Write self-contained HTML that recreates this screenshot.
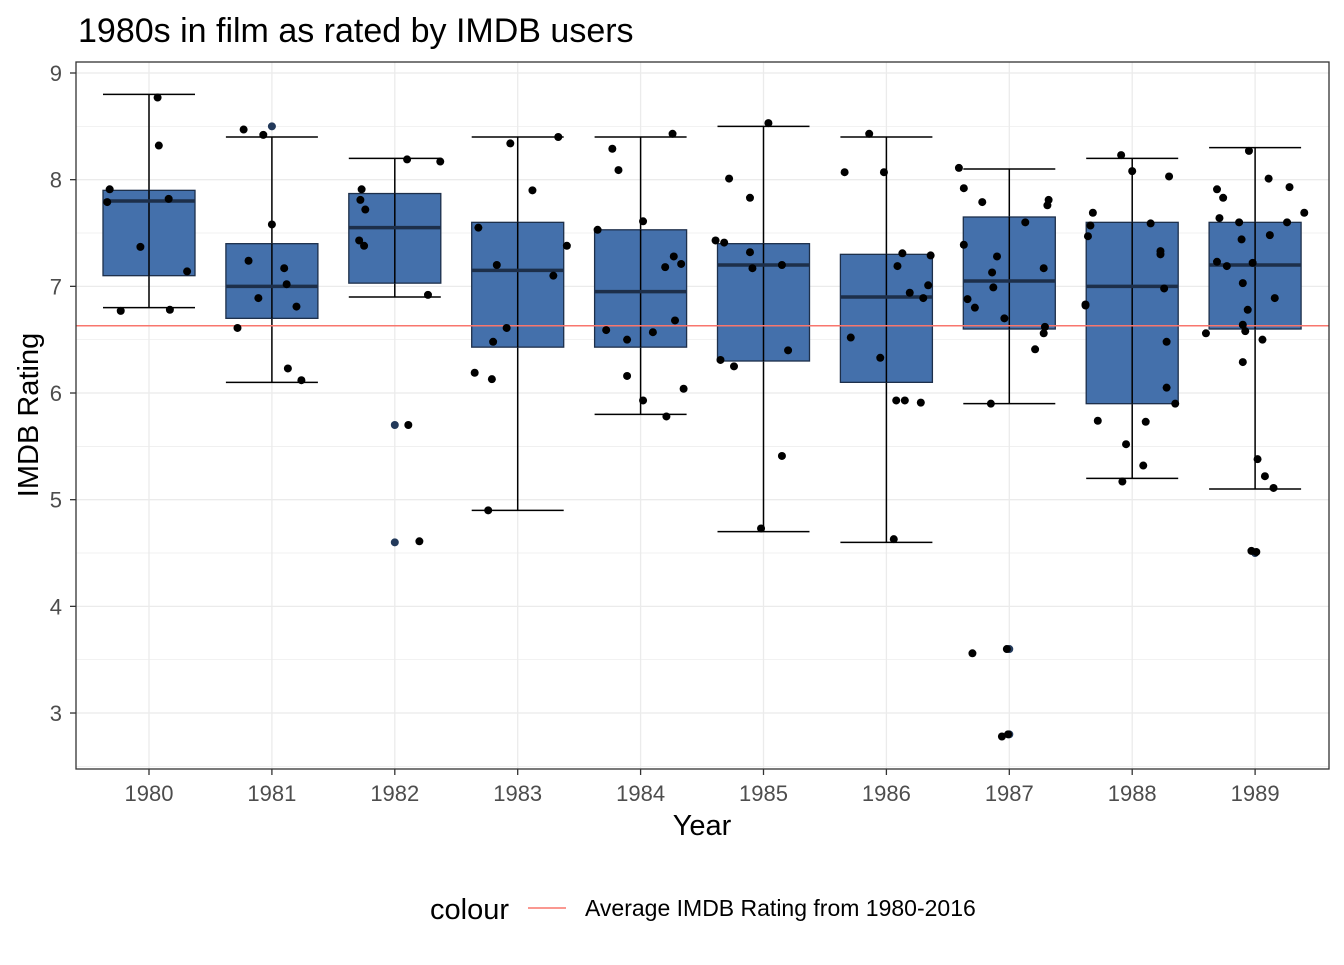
<!DOCTYPE html>
<html><head><meta charset="utf-8"><style>
html,body{margin:0;padding:0;background:#fff;}
svg text{font-family:"Liberation Sans",Arial,sans-serif;}
</style></head><body>
<svg id="chart" width="1344" height="960" xmlns="http://www.w3.org/2000/svg">
<rect width="1344" height="960" fill="#fff"/>
<text x="78" y="42" font-size="34" fill="#000">1980s in film as rated by IMDB users</text>
<g id="grid"></g>
<g id="marks"></g>
<rect x="76" y="62" width="1253" height="707" fill="none" stroke="#333" stroke-width="1.3"/>
<g id="axes"></g>
<text x="702" y="835" font-size="29" text-anchor="middle" fill="#000">Year</text>
<text transform="translate(38,415) rotate(-90)" font-size="29" text-anchor="middle" fill="#000">IMDB Rating</text>
<g>
<text x="430" y="919" font-size="29" fill="#000">colour</text>
<line x1="528" y1="908" x2="566" y2="908" stroke="#F8766D" stroke-width="1.5"/>
<text x="585" y="916" font-size="23" fill="#000">Average IMDB Rating from 1980-2016</text>
</g>
</svg>
<script>
const years=[1980,1981,1982,1983,1984,1985,1986,1987,1988,1989];
const whiskLo=[6.8,6.1,6.9,4.9,5.8,4.7,4.6,5.9,5.2,5.1];
const q1=[7.1,6.7,7.03,6.43,6.43,6.3,6.1,6.6,5.9,6.6];
const med=[7.8,7.0,7.55,7.15,6.95,7.2,6.9,7.05,7.0,7.2];
const q3=[7.9,7.4,7.87,7.6,7.53,7.4,7.3,7.65,7.6,7.6];
const whiskHi=[8.8,8.4,8.2,8.4,8.4,8.5,8.4,8.1,8.2,8.3];
const outliers=[[],[8.5],[5.7,4.6],[],[],[],[],[3.6,2.8],[],[4.5]];
const avgRating=6.63;
const yTicks=[3,4,5,6,7,8,9];
const jitter=[
[[-.32,7.91],[-.34,7.79],[-.23,6.77],[-.07,7.37],[.07,8.77],[.08,8.32],[.16,7.82],[.17,6.78],[.31,7.14]],
[[-.23,8.47],[-.07,8.42],[-.28,6.61],[-.19,7.24],[-.11,6.89],[0,7.58],[.10,7.17],[.12,7.02],[.20,6.81],[.13,6.23],[.24,6.12]],
[[-.27,7.91],[-.28,7.81],[-.24,7.72],[-.29,7.43],[-.25,7.38],[.10,8.19],[.37,8.17],[.27,6.92],[.11,5.70],[.20,4.61]],
[[-.06,8.34],[.33,8.4],[.12,7.9],[-.32,7.55],[.40,7.38],[-.17,7.2],[.29,7.1],[-.09,6.61],[-.2,6.48],[-.35,6.19],[-.21,6.13],[-.24,4.9]],
[[-.23,8.29],[-.18,8.09],[.26,8.43],[-.35,7.53],[.02,7.61],[.27,7.28],[.2,7.18],[.33,7.21],[-.28,6.59],[-.11,6.5],[.1,6.57],[.28,6.68],[-.11,6.16],[.02,5.93],[.35,6.04],[.21,5.78]],
[[.04,8.53],[-.28,8.01],[-.11,7.83],[-.39,7.43],[-.32,7.41],[-.11,7.32],[-.09,7.17],[.15,7.2],[-.35,6.31],[-.24,6.25],[.2,6.4],[.15,5.41],[-.02,4.73]],
[[-.14,8.43],[-.34,8.07],[-.02,8.07],[.13,7.31],[.09,7.19],[.36,7.29],[.19,6.94],[.3,6.89],[.34,7.01],[-.29,6.52],[-.05,6.33],[.08,5.93],[.15,5.93],[.28,5.91],[.06,4.63]],
[[-.41,8.11],[-.37,7.92],[-.22,7.79],[.32,7.81],[.31,7.76],[.13,7.6],[-.37,7.39],[-.1,7.28],[-.14,7.13],[-.13,6.99],[.28,7.17],[-.34,6.88],[-.28,6.8],[-.04,6.7],[.29,6.62],[.28,6.56],[.21,6.41],[-.15,5.9],[-.3,3.56],[-.02,3.6],[-.06,2.78],[-.01,2.8]],
[[-.09,8.23],[0,8.08],[.3,8.03],[-.32,7.69],[-.34,7.57],[-.36,7.47],[.15,7.59],[.23,7.33],[.23,7.3],[.26,6.98],[-.38,6.83],[-.38,6.82],[.28,6.48],[.28,6.05],[.35,5.9],[-.28,5.74],[.11,5.73],[-.05,5.52],[.09,5.32],[-.08,5.17]],
[[-.05,8.27],[-.31,7.91],[-.26,7.83],[.11,8.01],[.28,7.93],[.4,7.69],[-.29,7.64],[-.13,7.6],[.26,7.6],[.12,7.48],[-.11,7.44],[-.31,7.23],[-.23,7.19],[-.02,7.22],[-.1,7.03],[.16,6.89],[-.06,6.78],[-.4,6.56],[-.1,6.64],[-.08,6.58],[.06,6.5],[-.1,6.29],[.02,5.38],[.08,5.22],[.15,5.11],[-.03,4.52],[.01,4.51]]
];
const NS="http://www.w3.org/2000/svg";
const X0=149,XS=122.9,Y9=73,YS=106.67,HALF=46;
function xs(i){return X0+i*XS;}
function ys(v){return Y9+(9-v)*YS;}
function mk(parent,tag,attrs){const e=document.createElementNS(NS,tag);for(const k in attrs)e.setAttribute(k,attrs[k]);parent.appendChild(e);return e;}
const grid=document.getElementById('grid'),marks=document.getElementById('marks'),axes=document.getElementById('axes');
mk(grid,'rect',{x:76,y:62,width:1253,height:707,fill:'#fff'});
for(let v=2.5;v<=9.5;v+=0.5){const y=ys(v);if(y<62||y>769)continue;
 const l=mk(grid,'line',{x1:76,x2:1329,y1:y,y2:y,stroke:'#ebebeb','stroke-width':Number.isInteger(v)?1.3:0.7});
 
 }
years.forEach((yr,i)=>{const l=mk(grid,'line',{x1:xs(i),x2:xs(i),y1:62,y2:769,stroke:'#ebebeb','stroke-width':1.3});
 
 });
years.forEach((yr,i)=>{
 const cx=xs(i);
 const g=mk(marks,'g',{});
 
 
 mk(g,'line',{x1:cx,x2:cx,y1:ys(whiskHi[i]),y2:ys(q3[i]),stroke:'#000','stroke-width':1.5});
 mk(g,'line',{x1:cx,x2:cx,y1:ys(q1[i]),y2:ys(whiskLo[i]),stroke:'#000','stroke-width':1.5});
 mk(g,'line',{x1:cx-HALF,x2:cx+HALF,y1:ys(whiskHi[i]),y2:ys(whiskHi[i]),stroke:'#000','stroke-width':1.5});
 mk(g,'line',{x1:cx-HALF,x2:cx+HALF,y1:ys(whiskLo[i]),y2:ys(whiskLo[i]),stroke:'#000','stroke-width':1.5});
 mk(g,'rect',{x:cx-HALF,y:ys(q3[i]),width:2*HALF,height:ys(q1[i])-ys(q3[i]),fill:'#4470AB',stroke:'#1d2f4a','stroke-width':1.3});
 mk(g,'line',{x1:cx,x2:cx,y1:ys(q3[i]),y2:ys(q1[i]),stroke:'#000','stroke-width':1.5});
 mk(g,'line',{x1:cx-HALF,x2:cx+HALF,y1:ys(med[i]),y2:ys(med[i]),stroke:'#1d2f4a','stroke-width':3.5});
 outliers[i].forEach(v=>{const c=mk(marks,'circle',{cx:cx,cy:ys(v),r:4,fill:'#22395a'});
  
  });
});
const avg=mk(marks,'line',{x1:76,x2:1329,y1:ys(avgRating),y2:ys(avgRating),stroke:'#F8766D','stroke-width':1.5});


jitter.forEach((pts,i)=>pts.forEach(p=>{
 const c=mk(marks,'circle',{cx:xs(i+p[0]),cy:ys(p[1]),r:4,fill:'#000'});
 
 
}));
yTicks.forEach(v=>{const y=ys(v);
 mk(axes,'line',{x1:70,x2:76,y1:y,y2:y,stroke:'#333','stroke-width':1.3});
 const t=mk(axes,'text',{x:62,y:y+8,'font-size':22,'text-anchor':'end',fill:'#4d4d4d'});
 t.textContent=v;
 
 });
years.forEach((yr,i)=>{const x=xs(i);
 mk(axes,'line',{x1:x,x2:x,y1:769,y2:775,stroke:'#333','stroke-width':1.3});
 const t=mk(axes,'text',{x:x,y:801,'font-size':22,'text-anchor':'middle',fill:'#4d4d4d'});
 t.textContent=yr;
 
 });
</script>
</body></html>
